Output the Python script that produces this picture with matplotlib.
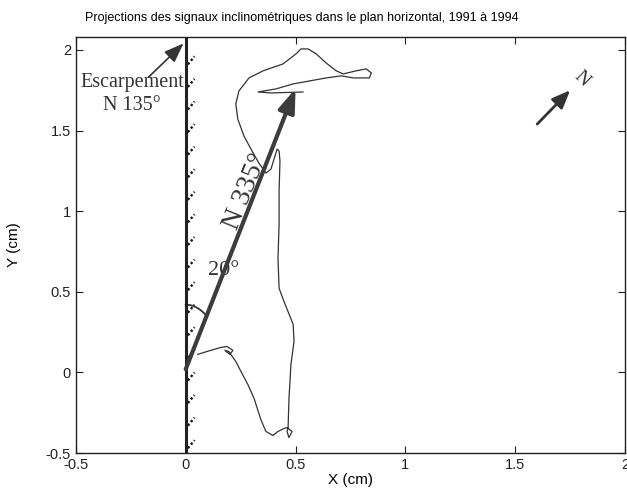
import numpy as np
import matplotlib.pyplot as plt

# trajectoire projetee (cm), 1991 -> 1994
traj_x = [0.055, 0.114, 0.160, 0.187, 0.215, 0.201, 0.178, 0.196, 0.228, 0.256,
          0.283, 0.311, 0.342, 0.365, 0.397, 0.420, 0.447, 0.461, 0.484, 0.470,
          0.461, 0.466, 0.470, 0.479, 0.493, 0.489, 0.447, 0.425, 0.420, 0.425,
          0.425, 0.429, 0.425, 0.416, 0.402, 0.388, 0.365, 0.333, 0.297, 0.265,
          0.237, 0.228, 0.242, 0.288, 0.352, 0.443, 0.502, 0.525, 0.557, 0.594,
          0.639, 0.685, 0.717, 0.776, 0.822, 0.845, 0.836, 0.763, 0.708, 0.639,
          0.489, 0.411, 0.329, 0.388, 0.534]
traj_y = [0.112, 0.137, 0.155, 0.161, 0.137, 0.112, 0.137, 0.130, 0.068, -0.006,
          -0.075, -0.161, -0.292, -0.366, -0.391, -0.366, -0.348, -0.342, -0.366, -0.404,
          -0.366, -0.342, -0.161, 0.050, 0.193, 0.298, 0.441, 0.522, 0.708, 0.919,
          1.124, 1.311, 1.373, 1.385, 1.323, 1.261, 1.236, 1.298, 1.385, 1.466,
          1.571, 1.665, 1.745, 1.826, 1.870, 1.913, 1.975, 2.006, 2.006, 1.975,
          1.919, 1.870, 1.851, 1.870, 1.882, 1.857, 1.826, 1.826, 1.839, 1.826,
          1.789, 1.758, 1.739, 1.733, 1.739]

# resultante N 335
res_start = (0.0, 0.02)
res_end = (0.5, 1.76)

ticks = [-0.5, 0, 0.5, 1, 1.5, 2]
tick_labels = ['-0.5', '0', '0.5', '1', '1.5', '2']

plt.rcParams['font.family'] = ['Liberation Sans', 'DejaVu Sans']

fig = plt.figure(figsize=(6.27, 4.93), dpi=100)
ax = fig.add_axes([0.121, 0.081, 0.876, 0.844])
ax.set_xlim(-0.5, 2)
ax.set_ylim(-0.5, 2.08)

# escarpement
ax.axvline(0, color='#222222', lw=2.2, zorder=3)
for yy in np.arange(-0.47, 2.02, 0.14):
    ax.plot([0.010, 0.040], [yy, yy + 0.05], color='#1a1a1a', lw=1.7,
            linestyle=(0, (1, 1)), zorder=3)

ax.plot(traj_x, traj_y, color='#333333', lw=0.9, zorder=2)

ax.annotate('', xy=res_end, xytext=res_start,
            arrowprops=dict(arrowstyle='-|>,head_length=1.4,head_width=0.5',
                            color='#3c3c3c', lw=3, shrinkA=0, shrinkB=0),
            zorder=4)

# arc 20 deg
t = np.radians(np.linspace(0, 34.4, 30))
ax.plot(0.168 * np.sin(t), res_start[1] + 0.40 * np.cos(t), color='#333333', lw=1.3)

serif = ['Liberation Serif', 'DejaVu Serif']
ax.text(0.103, 0.63, '20°', family=serif, fontsize=16, color='#333333', va='center')
ax.text(0.272, 1.12, 'N 335°', family=serif, fontsize=20, color='#333333',
        rotation=68, ha='center', va='center')
ax.text(-0.245, 1.725, 'Escarpement\nN 135°', family=serif, fontsize=14.5,
        color='#333333', ha='center', va='center', linespacing=1.3)
ax.annotate('', xy=(-0.01, 2.04), xytext=(-0.17, 1.83),
            arrowprops=dict(arrowstyle='-|>,head_length=1.2,head_width=0.45',
                            color='#333333', lw=1.2, shrinkA=0, shrinkB=0))

# nord
ax.annotate('', xy=(1.75, 1.75), xytext=(1.60, 1.54),
            arrowprops=dict(arrowstyle='-|>,head_length=1.1,head_width=0.45',
                            color='#333333', lw=2, shrinkA=0, shrinkB=0))
ax.text(1.80, 1.82, 'N', family=serif, fontsize=14, color='#333333',
        rotation=-45, ha='center', va='center')

ax.set_xticks(ticks)
ax.set_xticklabels(tick_labels)
ax.set_yticks(ticks)
ax.set_yticklabels(tick_labels)
ax.tick_params(direction='in', top=True, right=True, labelsize=10.5, length=5,
               colors='#222222')
for s in ax.spines.values():
    s.set_color('#222222')
    s.set_linewidth(1.0)

ax.set_xlabel('X (cm)', fontsize=11, labelpad=1)
ax.set_ylabel('Y (cm)', fontsize=11, labelpad=18)
fig.text(0.482, 0.963, 'Projections des signaux inclinométriques dans le plan horizontal, 1991 à 1994',
         ha='center', va='center', fontsize=9)

fig.savefig('out.png', dpi=100)
